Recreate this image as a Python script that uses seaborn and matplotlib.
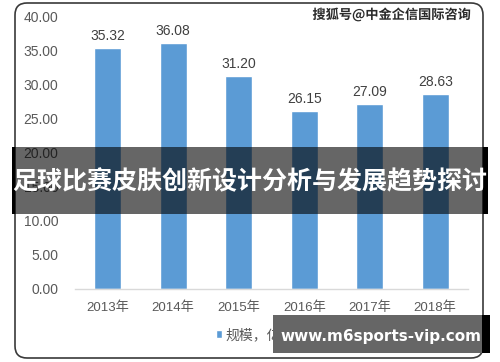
import matplotlib
matplotlib.use("Agg")
import matplotlib.pyplot as plt
import seaborn as sns
import pandas as pd
from matplotlib.patches import FancyBboxPatch, Rectangle, Patch
import matplotlib.patheffects as pe

years = ["2013年", "2014年", "2015年", "2016年", "2017年", "2018年"]
values = [35.32, 36.08, 31.20, 26.15, 27.09, 28.63]
series_name = "规模，亿元"
yticks = [0, 5, 10, 15, 20, 25, 30, 35, 40]
title = "足球比赛皮肤创新设计分析与发展趋势探讨"
watermark = "搜狐号@中金企信国际咨询"
site = "www.m6sports-vip.com"

sns.set_theme(style="white")
plt.rcParams['font.family'] = ['Liberation Sans', 'Noto Sans CJK SC']

df = pd.DataFrame({"year": years, "value": values})

W, H = 500, 362
fig = plt.figure(figsize=(W / 100, H / 100), dpi=100)
fig.patch.set_facecolor("white")

def px(x0, y0):
    return x0 / 100, (H - y0) / 100

# rounded chart frame
frame = FancyBboxPatch(px(15, 358), 468 / 100, 355 / 100,
                       boxstyle="round,pad=0,rounding_size=0.12",
                       transform=fig.dpi_scale_trans, facecolor="white",
                       edgecolor="#3a3a3a", linewidth=1.2, zorder=-5)
fig.patches.append(frame)

ax = fig.add_axes([75 / W, 1 - 289 / H, 393 / W, 273 / H])
ax.set_zorder(1)
ax.set_facecolor("none")
sns.barplot(data=df, x="year", y="value", color="#5b9bd5", width=0.41,
            saturation=1, ax=ax)
ax.set_ylim(0, 40)
ax.set_yticks(yticks)
ax.set_yticklabels([f"{v:.2f}" for v in yticks])
ax.set_xlabel("")
ax.set_ylabel("")
for s in ["top", "right", "left"]:
    ax.spines[s].set_visible(False)
ax.spines["bottom"].set_color("#d9d9d9")
ax.spines["bottom"].set_linewidth(1.0)
ax.tick_params(axis="y", length=0, pad=12, labelsize=10, labelcolor="#595959")
ax.tick_params(axis="x", length=0, pad=9, labelsize=9.5, labelcolor="#595959")
ax.bar_label(ax.containers[0], labels=[f"{v:.2f}" for v in values],
             padding=3.5, fontsize=10, color="#404040")

# legend
leg = ax.legend(handles=[Patch(facecolor="#5b9bd5", label=series_name)],
                loc="center left", bbox_to_anchor=(203 / W, 1 - 335 / H),
                bbox_transform=fig.transFigure, frameon=False,
                handlelength=0.45, handleheight=0.45, handletextpad=0.3,
                fontsize=10)
for t in leg.get_texts():
    t.set_color("#595959")

# watermark
fig.text(392 / W, 1 - 15 / H, watermark, ha="center", va="center",
         fontsize=9.5, fontweight="bold", color="#2a2a2a",
         family=['Noto Sans CJK SC'], zorder=5,
         path_effects=[pe.withStroke(linewidth=1.5, foreground="white")])

# title banner
fig.patches.append(Rectangle(px(15, 214), 468 / 100, 67 / 100,
                             transform=fig.dpi_scale_trans, facecolor="black",
                             alpha=0.6, edgecolor="none", zorder=10))
fig.patches.append(Rectangle(px(12, 214), 3 / 100, 67 / 100,
                             transform=fig.dpi_scale_trans, facecolor="black",
                             edgecolor="none", zorder=10))
fig.patches.append(Rectangle(px(483, 214), 5 / 100, 67 / 100,
                             transform=fig.dpi_scale_trans, facecolor="black",
                             edgecolor="none", zorder=10))
fig.text(250 / W, 1 - 182 / H, title, ha="center", va="center",
         fontsize=18, fontweight="bold", color="white",
         family=['Noto Sans CJK SC'], zorder=11)

# site box
fig.patches.append(Rectangle(px(273, 353), 209 / 100, 38 / 100,
                             transform=fig.dpi_scale_trans, facecolor="#666666",
                             edgecolor="none", zorder=10))
fig.patches.append(Rectangle(px(482, 353), 8 / 100, 38 / 100,
                             transform=fig.dpi_scale_trans, facecolor="black",
                             edgecolor="none", zorder=10))
fig.text(381 / W, 1 - 336 / H, site, ha="center", va="center",
         fontsize=11, fontweight="bold", color="white",
         family=['DejaVu Sans'], zorder=11)

fig.savefig("out.png", dpi=100)
